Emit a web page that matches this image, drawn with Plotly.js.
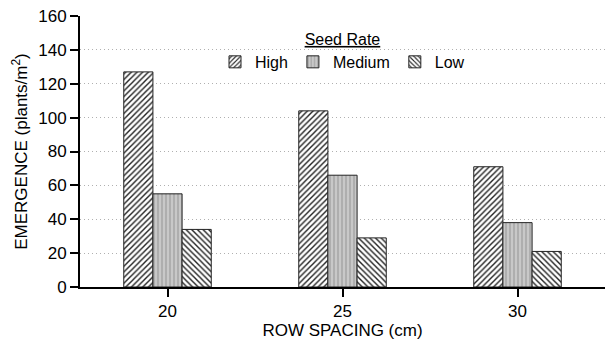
<!DOCTYPE html>
<html><head><meta charset="utf-8">
<script src="https://cdn.plot.ly/plotly-3.0.1.min.js"></script>
<style>body{margin:0;background:#fff}#chart{width:605px;height:344px}</style>
</head><body><div id="chart"></div>
<script>
const rowSpacing = ['20', '25', '30'];
const high = [127, 104, 71];
const medium = [55, 66, 38];
const low = [34, 29, 21];
const seriesNames = ['High', 'Medium', 'Low'];
const yTicks = [0, 20, 40, 60, 80, 100, 120, 140, 160];

function bar(name, vals, shape, bg, fg, sol) {
  return {
    type: 'bar', name: name, x: rowSpacing, y: vals,
    marker: {
      color: bg,
      line: {color: '#222', width: 1},
      pattern: {shape: shape, fgcolor: fg, bgcolor: bg, size: 4, solidity: sol}
    }
  };
}
const data = [
  bar(seriesNames[0], high, '/', '#ffffff', '#222', 0.35),
  bar(seriesNames[1], medium, '|', '#c8c8c8', '#a8a8a8', 0.4),
  bar(seriesNames[2], low, '\\', '#ffffff', '#222', 0.35)
];
const ff = 'Liberation Sans, Arial, sans-serif';
const layout = {
  width: 605, height: 344,
  margin: {l: 80, r: 0, t: 16, b: 57},
  paper_bgcolor: '#fff', plot_bgcolor: '#fff',
  font: {family: ff, size: 17, color: '#000'},
  barmode: 'group', bargap: 0.5, bargroupgap: 0,
  showlegend: true,
  legend: {
    orientation: 'h', x: 0.5, xanchor: 'center', y: 0.97, yanchor: 'top',
    bgcolor: 'rgba(0,0,0,0)', font: {family: ff, size: 16, color: '#000'},
    title: {text: '<u>Seed Rate</u>', side: 'top center', font: {family: ff, size: 16, color: '#000'}},
    tracegroupgap: 0
  },
  xaxis: {
    type: 'category', range: [-0.5, 2.5],
    showline: true, linecolor: '#000', linewidth: 2,
    ticks: 'outside', ticklen: 8, tickwidth: 2, tickcolor: '#000',
    tickfont: {family: ff, size: 17, color: '#000'},
    title: {text: 'ROW SPACING (cm)', font: {family: ff, size: 17, color: '#000'}, standoff: 2},
    showgrid: false, zeroline: false
  },
  yaxis: {
    range: [0, 160], tickvals: yTicks,
    showline: true, linecolor: '#000', linewidth: 2,
    ticks: 'outside', ticklen: 8, tickwidth: 2, tickcolor: '#000',
    tickfont: {family: ff, size: 17, color: '#000'},
    title: {text: 'EMERGENCE (plants/m<sup>2</sup>)', font: {family: ff, size: 17, color: '#000'}, standoff: 6},
    showgrid: true, gridcolor: '#b0b0b0', griddash: '1px,3px', gridwidth: 1,
    zeroline: false
  }
};
Plotly.newPlot('chart', data, layout, {staticPlot: true});
</script></body></html>
